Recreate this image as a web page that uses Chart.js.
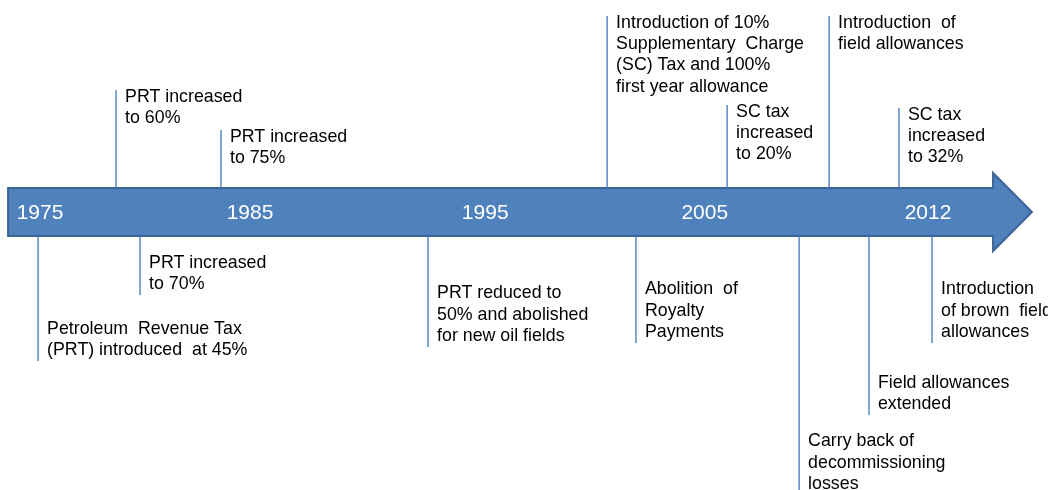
<!DOCTYPE html>
<html>
<head>
<meta charset="utf-8">
<script src="https://cdn.jsdelivr.net/npm/chart.js@4.4.1/dist/chart.umd.min.js"></script>
<style>
  html, body { margin: 0; padding: 0; background: #fff; }
  #wrap { width: 1048px; height: 490px; position: relative; }
</style>
</head>
<body>
<div id="wrap"><canvas id="timeline"></canvas></div>
<script>
// years on the arrow (the original is schematic, not to scale)
const yearLabels = ['1975', '1985', '1995', '2005', '2012'];
const yearPos = [1975, 1983.75, 1993.55, 2002.7, 2012];

// arrow extent along the timeline
const arrowStart = 1973.67;
const arrowHeadBase = 2014.71;
const arrowTip = 2016.33;
const bandHalf = 24;
const headHalf = 39;

const eventText = [
  ['PRT increased', 'to 60%'],
  ['PRT increased', 'to 75%'],
  ['Introduction of 10%', 'Supplementary  Charge', '(SC) Tax and 100%', 'first year allowance'],
  ['SC tax', 'increased', 'to 20%'],
  ['Introduction  of', 'field allowances'],
  ['SC tax', 'increased', 'to 32%'],
  ['Petroleum  Revenue Tax', '(PRT) introduced  at 45%'],
  ['PRT increased', 'to 70%'],
  ['PRT reduced to', '50% and abolished', 'for new oil fields'],
  ['Abolition  of', 'Royalty', 'Payments'],
  ['Carry back of', 'decommissioning', 'losses'],
  ['Field allowances', 'extended'],
  ['Introduction', 'of brown  field', 'allowances']
];
const eventYear = [1978.17, 1982.54, 1998.63, 2003.63, 2007.88, 2010.79,
                   1974.92, 1979.17, 1991.17, 1999.83, 2006.63, 2009.54, 2012.17];
// stem end: positive above the arrow, negative below
const eventStem = [122, 82, 196, 107, 196, 104,
                   -149, -83, -135, -131, -283, -203, -131];

const blue = '#4f81bd';
const blueEdge = '#3b6497';
const lineH = 21.3;

const datasets = eventYear.map((yr, i) => ({
  data: [{ x: yr, y: eventStem[i] > 0 ? bandHalf : -bandHalf }, { x: yr, y: eventStem[i] }],
  borderColor: blue,
  borderWidth: 1.4,
  pointRadius: 0,
  fill: false,
  clip: false
}));

const timelinePlugin = {
  id: 'timeline',
  beforeDatasetsDraw(chart) {
    const { ctx, scales: { x, y } } = chart;
    const px = v => x.getPixelForValue(v);
    const py = v => y.getPixelForValue(v);
    ctx.save();
    ctx.beginPath();
    ctx.moveTo(px(arrowStart), py(bandHalf));
    ctx.lineTo(px(arrowHeadBase), py(bandHalf));
    ctx.lineTo(px(arrowHeadBase), py(headHalf));
    ctx.lineTo(px(arrowTip), py(0));
    ctx.lineTo(px(arrowHeadBase), py(-headHalf));
    ctx.lineTo(px(arrowHeadBase), py(-bandHalf));
    ctx.lineTo(px(arrowStart), py(-bandHalf));
    ctx.closePath();
    ctx.fillStyle = blue;
    ctx.fill();
    ctx.lineWidth = 2;
    ctx.strokeStyle = blueEdge;
    ctx.stroke();
    ctx.restore();
  },
  afterDatasetsDraw(chart) {
    const { ctx, scales: { x, y } } = chart;
    ctx.save();
    ctx.textBaseline = 'middle';
    ctx.textAlign = 'center';
    ctx.fillStyle = '#ffffff';
    ctx.font = '21px "Liberation Sans", Arial, sans-serif';
    yearLabels.forEach((lab, i) => {
      ctx.fillText(lab, x.getPixelForValue(yearPos[i]), y.getPixelForValue(0) + 1);
    });

    ctx.textAlign = 'left';
    ctx.fillStyle = '#000000';
    ctx.font = '17.8px "Liberation Sans", Arial, sans-serif';
    eventText.forEach((lines, i) => {
      const sx = x.getPixelForValue(eventYear[i]) + 9;
      const sy = y.getPixelForValue(eventStem[i]);
      let first;
      if (eventStem[i] > 0) first = sy + 7;
      else first = sy - 11 - (lines.length - 1) * lineH;
      lines.forEach((t, j) => ctx.fillText(t, sx, first + j * lineH));
    });
    ctx.restore();
  }
};

new Chart(document.getElementById('timeline'), {
  type: 'line',
  data: { datasets },
  options: {
    responsive: true,
    maintainAspectRatio: false,
    animation: false,
    layout: { padding: 0 },
    plugins: { legend: { display: false }, tooltip: { enabled: false } },
    scales: {
      x: { type: 'linear', display: false, min: 1973.3333, max: 2017.0 },
      y: { type: 'linear', display: false, min: -278, max: 212 }
    }
  },
  plugins: [timelinePlugin]
});
</script>
</body>
</html>
